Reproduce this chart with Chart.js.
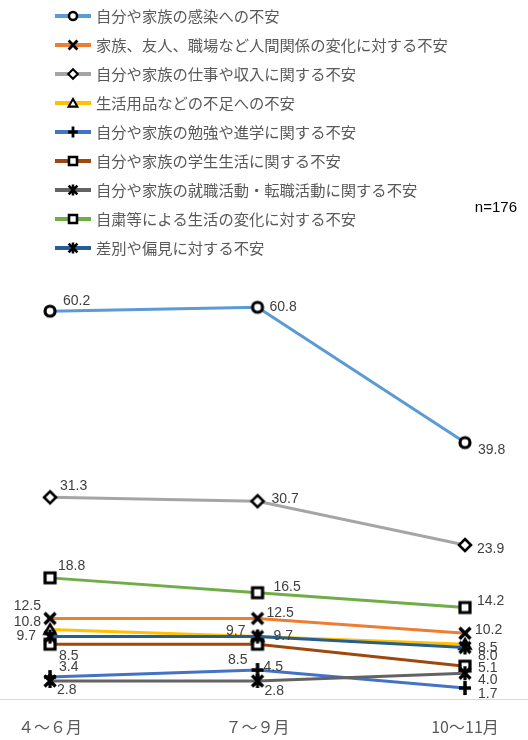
<!DOCTYPE html>
<html>
<head>
<meta charset="utf-8">
<script src="https://cdn.jsdelivr.net/npm/chart.js@4.4.1/dist/chart.umd.min.js"></script>
<style>
  html, body { margin: 0; padding: 0; background: #fff; }
</style>
</head>
<body>
<canvas id="chart" width="528" height="740"></canvas>
<script>
// ---- data ----
const periods = ['４～６月', '７～９月', '10～11月'];

const seriesNames = [
  '自分や家族の感染への不安',
  '家族、友人、職場など人間関係の変化に対する不安',
  '自分や家族の仕事や収入に関する不安',
  '生活用品などの不足への不安',
  '自分や家族の勉強や進学に関する不安',
  '自分や家族の学生生活に関する不安',
  '自分や家族の就職活動・転職活動に関する不安',
  '自粛等による生活の変化に対する不安',
  '差別や偏見に対する不安',
];

const infection = [60.2, 60.8, 39.8];
const relations = [12.5, 12.5, 10.2];
const income = [31.3, 30.7, 23.9];
const supplies = [10.8, 9.7, 8.5];
const study = [3.4, 4.5, 1.7];
const campusLife = [8.5, 8.5, 5.1];
const jobHunting = [2.8, 2.8, 4.0];
const lifestyle = [18.8, 16.5, 14.2];
const discrimination = [9.7, 9.7, 8.0];

const sampleNote = 'n=176';

// ---- styling ----
const seriesValues = [infection, relations, income, supplies, study,
  campusLife, jobHunting, lifestyle, discrimination];
const colors = ['#5B9BD5', '#ED7D31', '#A5A5A5', '#FFC000', '#4472C4',
  '#9E480E', '#636363', '#70AD47', '#255E91'];
const markers = ['circle', 'x', 'diamond', 'triangle', 'plus',
  'square', 'star', 'square', 'star'];

// where each value label sits relative to its point: [dx, dy, align]
const labelOffsets = [
  [[13, -10, 'left'], [12, 0, 'left'], [13, 8, 'left']],
  [[-9, -12, 'right'], [9, -5, 'left'], [10, -3, 'left']],
  [[10, -11, 'left'], [14, -2, 'left'], [12, 4, 'left']],
  [[-9, -7, 'right'], [-12, -5, 'right'], [13, 4, 'left']],
  [[9, -10, 'left'], [6, -3, 'left'], [13, 6, 'left']],
  [[9, 12, 'left'], [-10, 16, 'right'], [13, 2, 'left']],
  [[7, 9, 'left'], [7, 10, 'left'], [13, 7, 'left']],
  [[8, -12, 'left'], [16, -6, 'left'], [12, -6, 'left']],
  [[-14, 0, 'right'], [16, 0, 'left'], [13, 9, 'left']],
];

/** Draws an Excel-like marker into a small canvas, used as pointStyle. */
function makeMarker(kind, scale) {
  const c = document.createElement('canvas');
  const size = Math.ceil(22 * scale);
  c.width = size;
  c.height = size;
  const g = c.getContext('2d');
  g.translate(size / 2, size / 2);
  g.scale(scale, scale);
  g.strokeStyle = '#000';
  g.fillStyle = '#fff';
  g.lineCap = 'butt';
  g.beginPath();
  switch (kind) {
    case 'circle':
      g.lineWidth = 3.2;
      g.arc(0, 0, 5, 0, Math.PI * 2);
      g.fill();
      g.stroke();
      break;
    case 'square':
      g.lineWidth = 3.2;
      g.rect(-5, -5, 10, 10);
      g.fill();
      g.stroke();
      break;
    case 'diamond':
      g.lineWidth = 2.6;
      g.moveTo(0, -6); g.lineTo(6, 0); g.lineTo(0, 6); g.lineTo(-6, 0);
      g.closePath();
      g.fill();
      g.stroke();
      break;
    case 'triangle':
      g.lineWidth = 2.6;
      g.moveTo(0, -5); g.lineTo(5.5, 4.5); g.lineTo(-5.5, 4.5);
      g.closePath();
      g.fill();
      g.stroke();
      break;
    case 'x':
      g.lineWidth = 3.5;
      g.moveTo(-5.5, -5.5); g.lineTo(5.5, 5.5);
      g.moveTo(-5.5, 5.5); g.lineTo(5.5, -5.5);
      g.stroke();
      break;
    case 'plus':
      g.lineWidth = 3.5;
      g.moveTo(0, -7); g.lineTo(0, 7);
      g.moveTo(-6, 0); g.lineTo(6, 0);
      g.stroke();
      break;
    case 'star':
      g.lineWidth = 3.2;
      g.moveTo(-5.5, -5.5); g.lineTo(5.5, 5.5);
      g.moveTo(-5.5, 5.5); g.lineTo(5.5, -5.5);
      g.moveTo(0, -7); g.lineTo(0, 7);
      g.stroke();
      break;
  }
  return c;
}

const chartMarkers = markers.map((m) => makeMarker(m, 1));
const legendMarkers = markers.map((m) => makeMarker(m, 0.8));

// full-width light axis line at zero
const baseLinePlugin = {
  id: 'baseLine',
  beforeDatasetsDraw(chart) {
    const ctx = chart.ctx;
    const y = Math.round(chart.scales.y.getPixelForValue(0)) + 0.5;
    ctx.save();
    ctx.strokeStyle = '#D9D9D9';
    ctx.lineWidth = 1;
    ctx.beginPath();
    ctx.moveTo(0, y);
    ctx.lineTo(chart.width, y);
    ctx.stroke();
    ctx.restore();
  },
};

// numbers next to each point
const valueLabelPlugin = {
  id: 'valueLabels',
  afterDatasetsDraw(chart) {
    const ctx = chart.ctx;
    ctx.save();
    ctx.font = '14px "Liberation Sans", Arial, sans-serif';
    ctx.fillStyle = '#404040';
    ctx.textBaseline = 'middle';
    chart.data.datasets.forEach((ds, di) => {
      const meta = chart.getDatasetMeta(di);
      meta.data.forEach((pt, i) => {
        const [dx, dy, align] = labelOffsets[di][i];
        ctx.textAlign = align;
        ctx.fillText(ds.data[i].toFixed(1), pt.x + dx, pt.y + dy);
      });
    });
    ctx.restore();
  },
};

// stacked legend at the top plus the sample-size note
const legendPlugin = {
  id: 'stackLegend',
  afterDraw(chart) {
    const ctx = chart.ctx;
    ctx.save();
    ctx.textBaseline = 'middle';
    ctx.textAlign = 'left';
    chart.data.datasets.forEach((ds, i) => {
      const y = 16 + 29 * i;
      ctx.strokeStyle = ds.borderColor;
      ctx.lineWidth = 4;
      ctx.beginPath();
      ctx.moveTo(55, y);
      ctx.lineTo(91, y);
      ctx.stroke();
      const mk = legendMarkers[i];
      ctx.drawImage(mk, 73 - mk.width / 2, y - mk.height / 2);
      ctx.fillStyle = '#595959';
      ctx.font = '15.3px "Noto Sans CJK JP", sans-serif';
      ctx.fillText(ds.label, 96, y);
    });
    ctx.fillStyle = '#000';
    ctx.font = '15px "Liberation Sans", Arial, sans-serif';
    ctx.textAlign = 'right';
    ctx.fillText(sampleNote, 517, 208);
    ctx.restore();
  },
};

const datasets = seriesValues.map((values, i) => ({
  label: seriesNames[i],
  data: values,
  borderColor: colors[i],
  backgroundColor: colors[i],
  borderWidth: 3,
  tension: 0,
  pointStyle: chartMarkers[i],
  pointRadius: 7,
  order: seriesValues.length - 1 - i,
}));

new Chart(document.getElementById('chart'), {
  type: 'line',
  data: { labels: periods, datasets },
  options: {
    responsive: false,
    animation: false,
    events: [],
    layout: { padding: { left: 47, right: 63, top: 248, bottom: 0 } },
    plugins: {
      legend: { display: false },
      tooltip: { enabled: false },
    },
    scales: {
      x: {
        offset: false,
        grid: { display: false, drawTicks: false },
        border: { display: false },
        ticks: {
          color: '#595959',
          font: { family: '"Noto Sans CJK JP", sans-serif', size: 16 },
          padding: 18,
          maxRotation: 0,
          autoSkip: false,
        },
        afterFit(scale) { scale.height = 41; },
      },
      y: {
        display: false,
        min: 0,
        max: 70,
      },
    },
  },
  plugins: [baseLinePlugin, valueLabelPlugin, legendPlugin],
});
</script>
</body>
</html>
